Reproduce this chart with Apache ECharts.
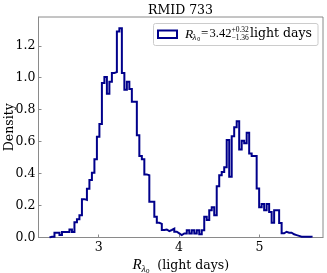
<!DOCTYPE html>
<html>
<head>
<meta charset="utf-8">
<script src="https://cdn.jsdelivr.net/npm/echarts@6/dist/echarts.min.js"></script>
<style>
html,body{margin:0;padding:0;background:#fff;}
#chart{width:327px;height:273px;}
</style>
</head>
<body>
<div id="chart"></div>
<script>
// Histogram definition
const binStart = 2.3876;   // left edge of the first bin (light days)
const binWidth = 0.03106;  // bin width (light days)
const density = [
  0.005, 0.005, 0.03, 0.03, 0.015, 0.035, 0.035, 0.035, 0.05, 0.035,
  0.095, 0.115, 0.14, 0.24, 0.235, 0.305, 0.36, 0.405, 0.49, 0.63,
  0.71, 0.967, 1.005, 0.9, 0.975, 1.03, 1.035, 1.29, 1.31, 1.03,
  0.925, 0.975, 0.93, 0.85, 0.85, 0.64, 0.51, 0.49, 0.395, 0.39,
  0.224, 0.224, 0.13, 0.092, 0.085, 0.047, 0.05, 0.04, 0.047, 0.055,
  0.036, 0.026, 0.015, 0.025, 0.025, 0.045, 0.025, 0.045, 0.025, 0.045,
  0.02, 0.045, 0.13, 0.11, 0.17, 0.19, 0.14, 0.32, 0.39, 0.41,
  0.44, 0.61, 0.38, 0.634, 0.69, 0.728, 0.55, 0.605, 0.59, 0.655,
  0.526, 0.51, 0.51, 0.307, 0.19, 0.21, 0.17, 0.21, 0.16, 0.093,
  0.17, 0.17, 0.09, 0.026, 0.036, 0.03, 0.03, 0.02, 0.015, 0.01,
  0.005, 0.005, 0.005, 0.005, 0.005
];
const xTicks = [3, 4, 5];
const yTicks = [0, 0.2, 0.4, 0.6, 0.8, 1.0, 1.2];
const titleText = 'RMID 733';
const legendValue = '3.42';
const legendUpper = '+0.32';
const legendLower = '\u22121.36';
const unitText = 'light days';

// Build the step outline from bin edges
const edges = density.map((_, i) => binStart + i * binWidth);
const lastEdge = binStart + density.length * binWidth;
const outline = [[edges[0], 0]];
density.forEach((d, i) => outline.push([edges[i], d]));
outline.push([lastEdge, 0]);

const serif = '"DejaVu Serif", serif';
const mathFont = '"Liberation Serif", serif';
const lineColor = '#00008b';
const spineColor = '#8a8a8a';

const chart = echarts.init(document.getElementById('chart'), null, {renderer: 'canvas'});
chart.setOption({
  animation: false,
  backgroundColor: '#ffffff',
  grid: {
    left: 38.5, top: 17, width: 284.5, height: 220.5,
    show: true, borderColor: spineColor, borderWidth: 1, backgroundColor: 'transparent',
    containLabel: false,
    outerBoundsMode: 'none'
  },
  xAxis: {
    type: 'value',
    min: 2.251, max: 5.791,
    splitLine: {show: false},
    axisLine: {show: true, onZero: false, lineStyle: {color: spineColor, width: 1}},
    axisTick: {show: true, inside: true, length: 3, customValues: xTicks, lineStyle: {color: spineColor}},
    axisLabel: {customValues: xTicks, color: '#000', fontFamily: serif, fontSize: 12.5, margin: 4,
      formatter: v => String(Math.round(v))},
    name: '{r|R}{s|\u03bb}{z|0}{t|  (light days)}',
    nameLocation: 'middle',
    nameGap: 19,
    nameMoveOverlap: false,
    nameTextStyle: {
      rich: {
        r: {fontFamily: mathFont, fontStyle: 'italic', fontSize: 15, color: '#000'},
        s: {fontFamily: mathFont, fontStyle: 'italic', fontSize: 10, color: '#000', padding: [7, 0, 0, 0]},
        z: {fontFamily: mathFont, fontSize: 7, color: '#000', padding: [11, 0, 0, 0]},
        t: {fontFamily: serif, fontSize: 12.5, color: '#000'}
      }
    }
  },
  yAxis: {
    type: 'value',
    min: 0, max: 1.38,
    splitLine: {show: false},
    axisLine: {show: true, onZero: false, lineStyle: {color: spineColor, width: 1}},
    axisTick: {show: true, inside: true, length: 3, customValues: yTicks, lineStyle: {color: spineColor}},
    axisLabel: {customValues: yTicks, color: '#000', fontFamily: serif, fontSize: 12.5, margin: 3,
      formatter: v => v.toFixed(1)},
    name: 'Density',
    nameLocation: 'middle',
    nameGap: 22,
    nameMoveOverlap: false,
    nameTextStyle: {fontFamily: serif, fontSize: 12.5, color: '#000'}
  },
  series: [{
    type: 'line',
    step: 'end',
    data: outline,
    showSymbol: false,
    symbol: 'none',
    clip: true,
    lineStyle: {color: lineColor, width: 2, join: 'miter', cap: 'butt'}
  }],
  graphic: [
    {type: 'text', x: 180.5, y: 10.5,
      style: {text: titleText, fontFamily: serif, fontSize: 12.5, fill: '#000', align: 'center', verticalAlign: 'middle'}},
    {type: 'rect', x: 153.5, y: 23.5, shape: {width: 164.5, height: 22, r: 2},
      style: {fill: 'rgba(255,255,255,0.8)', stroke: '#cccccc', lineWidth: 1}},
    {type: 'rect', x: 158, y: 30.5, shape: {width: 19, height: 7.5},
      style: {fill: 'none', stroke: lineColor, lineWidth: 2}},
    {type: 'text', x: 185, y: 34,
      style: {text: 'R', fontFamily: mathFont, fontStyle: 'italic', fontSize: 13.5, fill: '#000', verticalAlign: 'middle'}},
    {type: 'text', x: 192.5, y: 37.5,
      style: {text: '\u03bb', fontFamily: mathFont, fontStyle: 'italic', fontSize: 9, fill: '#000', verticalAlign: 'middle'}},
    {type: 'text', x: 197.3, y: 39.5,
      style: {text: '0', fontFamily: mathFont, fontSize: 6, fill: '#000', verticalAlign: 'middle'}},
    {type: 'text', x: 201, y: 34,
      style: {text: '=', fontFamily: mathFont, fontSize: 13, fill: '#000', verticalAlign: 'middle'}},
    {type: 'text', x: 209.5, y: 34,
      style: {text: legendValue, fontFamily: mathFont, fontSize: 12.5, fill: '#000', verticalAlign: 'middle'}},
    {type: 'text', x: 231.5, y: 30.5,
      style: {text: legendUpper, fontFamily: mathFont, fontSize: 7.5, fill: '#000', verticalAlign: 'middle'}},
    {type: 'text', x: 231.5, y: 38,
      style: {text: legendLower, fontFamily: mathFont, fontSize: 7.5, fill: '#000', verticalAlign: 'middle'}},
    {type: 'text', x: 250, y: 34,
      style: {text: unitText, fontFamily: serif, fontSize: 12.5, fill: '#000', verticalAlign: 'middle'}}
  ]
});
</script>
</body>
</html>
